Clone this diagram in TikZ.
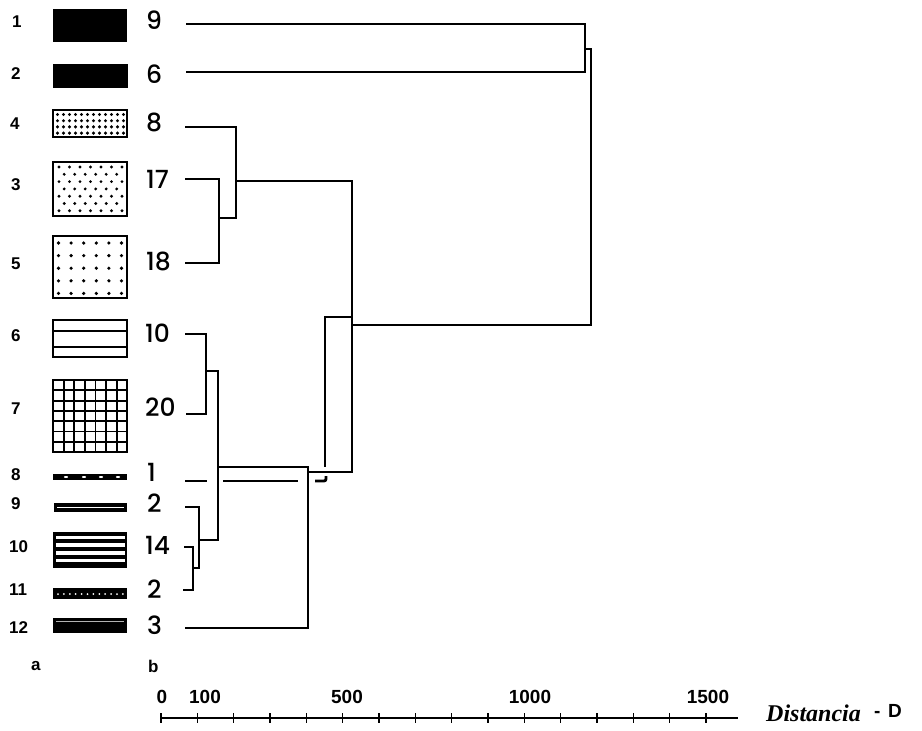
\documentclass[tikz,border=0pt]{standalone}
\usepackage{fontspec}
\setmainfont{Liberation Sans}
\newfontfamily\geo{Poppins Medium}
\newfontfamily\tms{Liberation Serif}
\newfontfamily\hvb{Liberation Sans Bold}
\begin{document}
\begin{tikzpicture}[x=1pt,y=-1pt,
  lnum/.style={anchor=west,inner sep=0pt,font=\hvb\fontsize{17}{17}\selectfont},
  bnum/.style={anchor=west,inner sep=0pt,font=\geo\fontsize{25}{25}\selectfont},
  axl/.style={inner sep=0pt,font=\hvb\fontsize{19}{19}\selectfont},
  den/.style={line width=2.8pt,line join=miter},
  frame/.style={line width=1.8pt},
  wdot/.style={white},
]
\useasboundingbox[fill=white] (0,0) rectangle (922,731);

% ---- column a labels
\node[lnum] (a1) at (12,22) {1};
\node[lnum] (a2) at (11,74) {2};
\node[lnum] (a4) at (10,124) {4};
\node[lnum] (a3) at (11,185) {3};
\node[lnum] (a5) at (11,264) {5};
\node[lnum] (a6) at (11,336) {6};
\node[lnum] (a7) at (11,409) {7};
\node[lnum] (a8) at (11,475) {8};
\node[lnum] (a9) at (11,504) {9};
\node[lnum] (a10) at (9,547) {10};
\node[lnum] (a11) at (9,590) {11};
\node[lnum] (a12) at (9,628) {12};
\node[lnum] (la) at (31,666) {a};
\node[lnum] (lb) at (148,666) {b};

% ---- pattern boxes
\fill (53,9) rectangle (127,42);
\fill (53,64) rectangle (128,88);
% 4: dense dots
\draw[frame] (53,110) rectangle (127,137);
\foreach \i in {0,...,11} \foreach \j in {0,...,3}
  \fill (57.5+\i*6,114.5+\j*6.2) circle (1.7);
% 3: staggered dots
\draw[frame] (53,162) rectangle (127,216);
\foreach \i in {0,...,6} \foreach \j in {0,2,4,6}
  \fill (59+\i*10.5,167+\j*7.3) circle (1.6);
\foreach \i in {0,...,5} \foreach \j in {1,3,5}
  \fill (64.2+\i*10.5,167+\j*7.3) circle (1.6);
% 5: dot grid
\draw[frame] (53,236) rectangle (127,298);
\foreach \i in {0,...,5} \foreach \j in {0,...,4}
  \fill (58.5+\i*12.6,243+\j*12.6) circle (1.8);
% 6: two lines
\draw[frame] (53,320) rectangle (127,357);
\draw[frame] (53,331) -- (127,331);
\draw[frame] (53,347) -- (127,347);
% 7: grid
\draw[frame] (53,380) rectangle (127,452);
\foreach \i in {1,...,6} \draw[frame] (53+\i*10.6,380) -- (53+\i*10.6,452);
\foreach \j in {1,...,6} \draw[frame] (53,380+\j*10.3) -- (127,380+\j*10.3);
% 8
\fill (53,474) rectangle (127,480);
\foreach \x in {66,84,101,118} \fill[wdot] (\x,477) ellipse (2.2 and 1);
% 9
\fill (54,503) rectangle (127,512);
\draw[white,line width=1.5pt] (57,507.5) -- (124,507.5);
% 10
\fill (53,532) rectangle (127,568);
\foreach \y in {535.5,543,551,558.5} \fill[white] (56,\y) rectangle (125,\y+3.6);
% 11
\fill (53,588) rectangle (127,599);
\foreach \i in {0,...,11} \fill[wdot] (58+\i*5.9,594) circle (1);
% 12
\fill (53,618) rectangle (127,633);
\draw[white!70!black,line width=0.6pt] (56,621) -- (124,621);

% ---- column b labels
\node[bnum] (b9)  at (146,20) {9};
\node[bnum] (b6)  at (146,74) {6};
\node[bnum] (b8)  at (146,122) {8};
\node[bnum] (b17) at (146,179) {17};
\node[bnum] (b18) at (146,261) {18};
\node[bnum] (b10) at (145,333) {10};
\node[bnum] (b20) at (145,407) {20};
\node[bnum] (b1)  at (147,472) {1};
\node[bnum] (b2a) at (147,503) {2};
\node[bnum] (b14) at (145,545) {14};
\node[bnum] (b2b) at (147,589) {2};
\node[bnum] (b3)  at (147,625) {3};

% ---- dendrogram
\coordinate (j96) at (585,49);
\coordinate (jtop) at (591,49);
\draw[den] (186,24) -- (585,24) -- (585,72) -- (186,72);
\draw[den] (j96) -- (jtop) -- (591,325) -- (352,325);
% upper cluster
\draw[den] (185,127) -- (236,127) -- (236,218) -- (219,218);
\draw[den] (185,179) -- (219,179) -- (219,263) -- (185,263);
\draw[den] (236,181) -- (352,181) -- (352,472) -- (308,472);
\draw[den] (352,317) -- (325,317) -- (325,467);
% leaf 1 dashed
\draw[den] (185,481) -- (207,481);
\draw[den] (223,481) -- (298,481);
\draw[den,rounded corners=2pt] (315,481) -- (326,481) -- (326,476);
% lower cluster
\draw[den] (185,334) -- (206,334) -- (206,414) -- (186,414);
\draw[den] (206,371) -- (218,371) -- (218,540) -- (199,540);
\draw[den] (185,507) -- (199,507) -- (199,568) -- (193,568);
\draw[den] (184,547) -- (193,547) -- (193,590) -- (183,590);
\draw[den] (218,467) -- (308,467) -- (308,628) -- (185,628);

% ---- axis
\draw[line width=1.5pt] (161,718) -- (738,718);
\foreach \i in {0,...,15} \draw[line width=1.5pt] (161+\i*36.33,713) -- (161+\i*36.33,723);
\node[axl] (t0) at (162,697) {0};
\node[axl] (t100) at (205,697) {100};
\node[axl] (t500) at (347,697) {500};
\node[axl] (t1000) at (530,697) {1000};
\node[axl] (t1500) at (708,697) {1500};
\node[anchor=west,inner sep=0pt,font=\tms\bfseries\itshape\fontsize{24}{24}\selectfont] (dist) at (766,713) {Distancia};
\node[anchor=west,inner sep=0pt,font=\hvb\fontsize{19}{19}\selectfont] (dd) at (874,711) {-\hspace{0.4em}D};
\end{tikzpicture}
\end{document}
